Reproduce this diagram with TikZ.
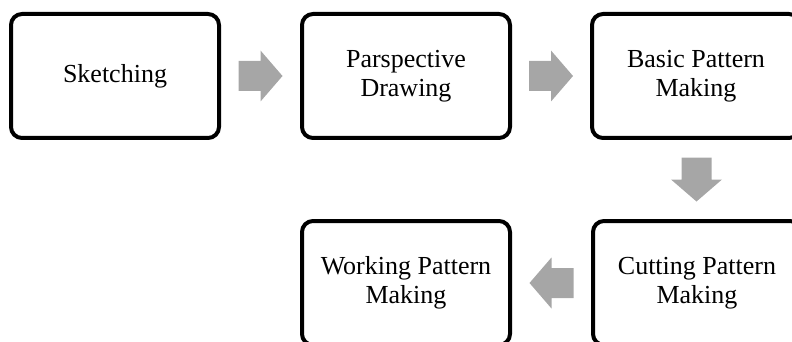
\documentclass[tikz,border=0pt]{standalone}
\usepackage{fontspec}
\setmainfont{Liberation Serif}
\usetikzlibrary{calc}
\colorlet{colorBOX}{black}
\definecolor{colorARR}{RGB}{166,166,166}
\tikzset{
   stepbox/.style={draw=colorBOX, line width=4pt, rounded corners=11pt, minimum width=208pt, minimum height=124pt, inner sep=0pt, align=center},
   flowarrow/.pic={\fill[colorARR] (-22,-15) -- (0,-15) -- (0,-25.5) -- (22,0) -- (0,25.5) -- (0,15) -- (-22,15) -- cycle;},
}
\begin{document}
\begin{tikzpicture}[
    x=1pt, y=1pt,
    every node/.style={font=\fontsize{26}{29}\selectfont}
]

\useasboundingbox (0,0) rectangle (792,-342);

% =========================================================
% top row
% =========================================================

\node[stepbox] (sketch) at (115,-76) {Sketching};
\node[stepbox] (persp) at (406,-76) {Parspective\\Drawing};
\node[stepbox] (basic) at (696,-76) {Basic Pattern\\Making};


% =========================================================
% bottom row
% =========================================================

\node[stepbox] (cutting) at (697,-283) {Cutting Pattern\\Making};
\node[stepbox] (working) at (406,-283) {Working Pattern\\Making};


% =========================================================
% arrows
% =========================================================

\pic (arrA) at ($(sketch.east)!0.5!(persp.west)$) {flowarrow};
\pic (arrB) at ($(persp.east)!0.5!(basic.west)$) {flowarrow};
\pic[rotate=-90] (arrC) at ($(basic.south)!0.5!(cutting.north)$) {flowarrow};
\pic[rotate=180] (arrD) at ($(cutting.west)!0.5!(working.east)$) {flowarrow};

\end{tikzpicture}
\end{document}
